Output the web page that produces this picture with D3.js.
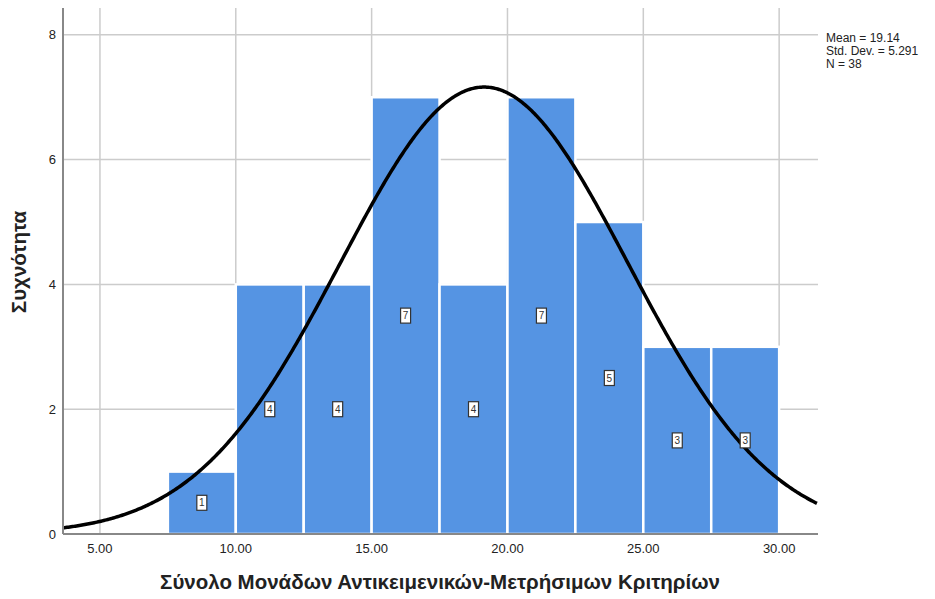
<!DOCTYPE html>
<html>
<head>
<meta charset="utf-8">
<script src="https://cdn.jsdelivr.net/npm/d3@7"></script>
<style>
  body { margin: 0; background: #fff; }
  text { font-family: Arial, "Liberation Sans", sans-serif; }
</style>
</head>
<body>
<svg width="935" height="599"></svg>
<script>
// histogram data
const binStarts = [7.5, 10, 12.5, 15, 17.5, 20, 22.5, 25, 27.5];
const binWidth = 2.5;
const counts = [1, 4, 4, 7, 4, 7, 5, 3, 3];
const xTicks = [5, 10, 15, 20, 25, 30];
const yTicks = [0, 2, 4, 6, 8];
const statLines = ["Mean = 19.14", "Std. Dev. = 5.291", "N = 38"];
const mean = 19.14, sd = 5.291, n = 38;

const svg = d3.select("svg");
const plotL = 63, plotR = 818, plotT = 8, plotB = 534;

const x = d3.scaleLinear().domain([3.64, 31.43]).range([plotL, plotR]);
const y = d3.scaleLinear().domain([0, 8.43]).range([plotB, plotT]);

// grid
svg.append("g")
  .selectAll("line")
  .data(xTicks)
  .enter()
  .append("line")
  .attr("x1", (d) => x(d)).attr("x2", (d) => x(d))
  .attr("y1", plotT).attr("y2", plotB)
  .attr("stroke", "#cccccc").attr("stroke-width", 1.5);
svg.append("g")
  .selectAll("line")
  .data(yTicks.slice(1))
  .enter()
  .append("line")
  .attr("x1", plotL).attr("x2", plotR)
  .attr("y1", (d) => y(d)).attr("y2", (d) => y(d))
  .attr("stroke", "#cccccc").attr("stroke-width", 1.5);

// bars
const bins = binStarts.map((s, i) => ({ x0: s, x1: s + binWidth, count: counts[i] }));
svg.append("g")
  .selectAll("rect")
  .data(bins)
  .enter()
  .append("rect")
  .attr("x", (d) => x(d.x0))
  .attr("width", (d) => x(d.x1) - x(d.x0))
  .attr("y", (d) => y(d.count))
  .attr("height", (d) => y(0) - y(d.count))
  .attr("fill", "#5594e3")
  .attr("stroke", "#ffffff")
  .attr("stroke-width", 2.5);

// normal curve
const pdf = (v) => Math.exp(-0.5 * ((v - mean) / sd) ** 2) / (sd * Math.sqrt(2 * Math.PI));
const curvePts = d3.range(3.64, 31.44, 0.05).map((v) => [v, n * binWidth * pdf(v)]);
svg.append("path")
  .datum(curvePts)
  .attr("fill", "none")
  .attr("stroke", "#000")
  .attr("stroke-width", 3.5)
  .attr("d", d3.line().x((d) => x(d[0])).y((d) => y(d[1])));

// count labels
const lab = svg.append("g")
  .selectAll("g")
  .data(bins)
  .enter()
  .append("g")
  .attr("transform", (d) => `translate(${x(d.x0 + binWidth / 2)},${y(d.count / 2)})`);
lab.append("rect")
  .attr("x", -5).attr("y", -7.5).attr("width", 10).attr("height", 15)
  .attr("fill", "#fff").attr("stroke", "#333").attr("stroke-width", 1.2);
lab.append("text")
  .attr("text-anchor", "middle").attr("dy", "0.35em")
  .attr("font-size", 10).attr("fill", "#333")
  .text((d) => d.count);

// axes lines
svg.append("line")
  .attr("x1", plotL).attr("x2", plotL).attr("y1", plotT).attr("y2", plotB)
  .attr("stroke", "#888").attr("stroke-width", 2);
svg.append("line")
  .attr("x1", plotL).attr("x2", plotR).attr("y1", plotB).attr("y2", plotB)
  .attr("stroke", "#888").attr("stroke-width", 2);

// tick labels
svg.append("g")
  .selectAll("text")
  .data(yTicks)
  .enter()
  .append("text")
  .attr("x", 56).attr("y", (d) => y(d))
  .attr("dy", "0.35em").attr("text-anchor", "end")
  .attr("font-size", 13).attr("fill", "#222")
  .text((d) => d);
svg.append("g")
  .selectAll("text")
  .data(xTicks)
  .enter()
  .append("text")
  .attr("x", (d) => x(d)).attr("y", 553)
  .attr("text-anchor", "middle")
  .attr("font-size", 13).attr("fill", "#222")
  .text((d) => d.toFixed(2));

// titles
svg.append("text")
  .attr("x", 440).attr("y", 589)
  .attr("text-anchor", "middle")
  .attr("font-size", 20.5).attr("font-weight", "bold").attr("fill", "#222")
  .text("Σύνολο Μονάδων Αντικειμενικών-Μετρήσιμων Κριτηρίων");
svg.append("text")
  .attr("transform", "translate(26,262) rotate(-90)")
  .attr("text-anchor", "middle")
  .attr("font-size", 20.5).attr("font-weight", "bold").attr("fill", "#222")
  .text("Συχνότητα");

// stats
svg.append("g")
  .selectAll("text")
  .data(statLines)
  .enter()
  .append("text")
  .attr("x", 826).attr("y", (d, i) => 42 + i * 13)
  .attr("font-size", 12).attr("fill", "#222")
  .text((d) => d);
</script>
</body>
</html>
